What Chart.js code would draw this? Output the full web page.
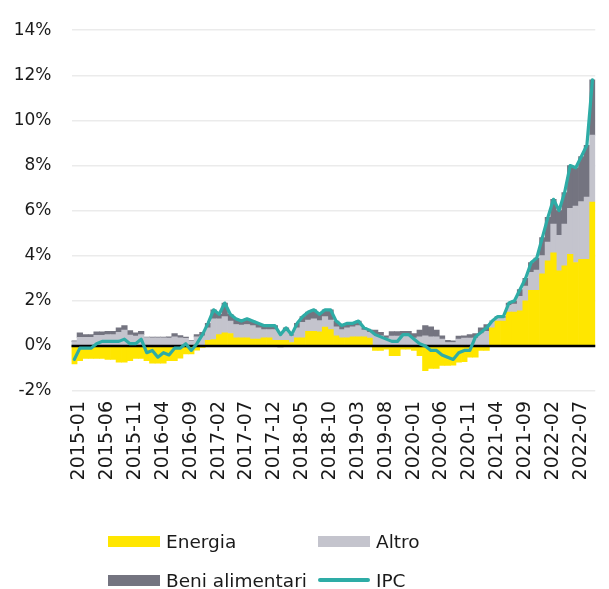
<!DOCTYPE html>
<html>
<head>
<meta charset="utf-8">
<script src="https://cdn.jsdelivr.net/npm/chart.js@4"></script>
<style>
  html, body { margin: 0; padding: 0; background: #ffffff; }
  #wrap { position: relative; width: 609px; height: 589px; }
  #legend { position: absolute; left: 108px; top: 526px; width: 480px;
    font-family: "DejaVu Sans", sans-serif; font-size: 18.5px; color: #1a1a1a; }
  .item { position: absolute; display: flex; align-items: center; white-space: nowrap; height: 30px; }
  .swatch { width: 52px; height: 11px; margin-right: 6px; }
  .lineSw { width: 52px; height: 4px; border-radius: 2px; margin-right: 6px; }
</style>
</head>
<body>
<div id="wrap">
  <canvas id="c" width="609" height="589"></canvas>
  <div id="legend"></div>
</div>
<script>
const months = [
  "2015-01","2015-02","2015-03","2015-04","2015-05","2015-06","2015-07","2015-08","2015-09","2015-10","2015-11","2015-12",
  "2016-01","2016-02","2016-03","2016-04","2016-05","2016-06","2016-07","2016-08","2016-09","2016-10","2016-11","2016-12",
  "2017-01","2017-02","2017-03","2017-04","2017-05","2017-06","2017-07","2017-08","2017-09","2017-10","2017-11","2017-12",
  "2018-01","2018-02","2018-03","2018-04","2018-05","2018-06","2018-07","2018-08","2018-09","2018-10","2018-11","2018-12",
  "2019-01","2019-02","2019-03","2019-04","2019-05","2019-06","2019-07","2019-08","2019-09","2019-10","2019-11","2019-12",
  "2020-01","2020-02","2020-03","2020-04","2020-05","2020-06","2020-07","2020-08","2020-09","2020-10","2020-11","2020-12",
  "2021-01","2021-02","2021-03","2021-04","2021-05","2021-06","2021-07","2021-08","2021-09","2021-10","2021-11","2021-12",
  "2022-01","2022-02","2022-03","2022-04","2022-05","2022-06","2022-07","2022-08","2022-09","2022-10"
];

const energia = [
  -0.80,-0.65,-0.55,-0.55,-0.55,-0.55,-0.60,-0.60,-0.72,-0.72,-0.65,-0.55,
  -0.55,-0.65,-0.77,-0.77,-0.77,-0.65,-0.65,-0.54,-0.36,-0.36,-0.19,-0.07,
  0.25,0.28,0.50,0.58,0.55,0.36,0.36,0.36,0.30,0.30,0.36,0.36,
  0.25,0.25,0.25,0.15,0.36,0.36,0.65,0.65,0.62,0.84,0.72,0.45,
  0.36,0.36,0.40,0.40,0.40,0.35,-0.20,-0.20,-0.15,-0.43,-0.43,-0.15,
  -0.15,-0.20,-0.43,-1.10,-1.00,-1.00,-0.87,-0.87,-0.85,-0.72,-0.70,-0.50,
  -0.50,-0.20,-0.20,0.80,1.10,1.10,1.50,1.50,1.55,2.00,2.46,2.46,
  3.20,3.77,4.13,3.33,3.55,4.06,3.70,3.84,3.84,6.38
];

const altro = [
  0.19,0.38,0.38,0.38,0.47,0.47,0.50,0.50,0.60,0.70,0.48,0.43,
  0.50,0.37,0.36,0.36,0.36,0.35,0.40,0.36,0.34,0.22,0.40,0.45,
  0.55,0.92,0.70,0.72,0.55,0.59,0.56,0.59,0.60,0.50,0.36,0.36,
  0.47,0.30,0.40,0.30,0.44,0.69,0.50,0.55,0.50,0.46,0.43,0.40,
  0.36,0.44,0.45,0.50,0.30,0.25,0.50,0.45,0.35,0.43,0.43,0.45,
  0.45,0.35,0.40,0.45,0.40,0.40,0.30,0.15,0.15,0.30,0.35,0.35,
  0.35,0.55,0.65,0.30,0.15,0.15,0.30,0.35,0.65,0.65,0.80,0.90,
  0.80,0.83,1.27,1.57,1.85,2.04,2.50,2.56,2.76,2.97
];

const beniAlimentari = [
  0.03,0.20,0.12,0.12,0.15,0.15,0.15,0.15,0.20,0.20,0.20,0.15,
  0.15,0.02,0.03,0.03,0.03,0.05,0.15,0.10,0.05,0.03,0.10,0.15,
  0.20,0.40,0.20,0.60,0.30,0.25,0.18,0.25,0.20,0.20,0.18,0.18,
  0.18,-0.05,0.15,0.05,0.20,0.25,0.35,0.40,0.30,0.30,0.45,0.25,
  0.18,0.20,0.15,0.20,0.10,0.10,0.20,0.15,0.10,0.20,0.20,0.20,
  0.20,0.20,0.30,0.45,0.45,0.30,0.15,0.10,0.08,0.13,0.10,0.15,
  0.20,0.25,0.30,0.00,0.05,0.05,0.10,0.15,0.30,0.35,0.44,0.54,
  0.80,1.10,1.10,1.10,1.40,1.90,1.70,2.00,2.30,2.45
];

const ipc = [
  -0.6,-0.1,-0.1,-0.1,0.1,0.2,0.2,0.2,0.2,0.3,0.1,0.1,
  0.3,-0.3,-0.2,-0.5,-0.3,-0.4,-0.1,-0.1,0.1,-0.2,0.1,0.5,
  1.0,1.6,1.4,1.9,1.4,1.2,1.1,1.2,1.1,1.0,0.9,0.9,
  0.9,0.5,0.8,0.5,1.0,1.3,1.5,1.6,1.4,1.6,1.6,1.1,
  0.9,1.0,1.0,1.1,0.8,0.7,0.5,0.4,0.3,0.2,0.2,0.5,
  0.5,0.3,0.1,0.0,-0.2,-0.2,-0.4,-0.5,-0.6,-0.3,-0.2,-0.2,
  0.4,0.6,0.8,1.1,1.3,1.3,1.9,2.0,2.5,3.0,3.7,3.9,
  4.8,5.7,6.5,6.0,6.8,8.0,7.9,8.4,8.9,11.8
];

const yTicks = [-2, 0, 2, 4, 6, 8, 10, 12, 14];
const tickEvery = 5;

const COLORS = { energia: "#FFE600", altro: "#C4C4CD", beni: "#747480", ipc: "#2EACA6" };
const FONT = "'DejaVu Sans', sans-serif";

const zeroLine = {
  id: "zeroLine",
  beforeDatasetDraw(chart, args) {
    if (args.index !== 3) return;
    const y = chart.scales.y.getPixelForValue(0);
    const { left, right } = chart.chartArea;
    const ctx = chart.ctx;
    ctx.save();
    ctx.strokeStyle = "#000000";
    ctx.lineWidth = 2.5;
    ctx.beginPath();
    ctx.moveTo(left, y);
    ctx.lineTo(right, y);
    ctx.stroke();
    ctx.restore();
  }
};

const chart = new Chart(document.getElementById("c"), {
  type: "bar",
  data: {
    labels: months,
    datasets: [
      { label: "Energia", data: energia, backgroundColor: COLORS.energia, stack: "s", order: 1 },
      { label: "Altro", data: altro, backgroundColor: COLORS.altro, stack: "s", order: 1 },
      { label: "Beni alimentari", data: beniAlimentari, backgroundColor: COLORS.beni, stack: "s", order: 1 },
      { type: "line", label: "IPC", data: ipc, borderColor: COLORS.ipc, backgroundColor: COLORS.ipc,
        borderWidth: 3.2, pointRadius: 0, tension: 0, order: 0, borderJoinStyle: "round", borderCapStyle: "round" }
    ]
  },
  options: {
    responsive: false,
    animation: false,
    devicePixelRatio: 1,
    datasets: { bar: { barPercentage: 1, categoryPercentage: 1, borderWidth: 0 } },
    layout: { padding: { top: 22, right: 12, left: 0, bottom: 0 } },
    plugins: { legend: { display: false }, tooltip: { enabled: false } },
    scales: {
      x: {
        stacked: true,
        grid: { display: false, drawTicks: false },
        border: { display: false },
        afterFit(s) { s.height = 198; },
        ticks: {
          autoSkip: false, maxRotation: 90, minRotation: 90, padding: 10, labelOffset: 5,
          color: "#1a1a1a", font: { family: FONT, size: 19 },
          callback(v, i) { return i % tickEvery === 0 ? months[i] : null; }
        }
      },
      y: {
        stacked: true,
        min: yTicks[0], max: yTicks[yTicks.length - 1],
        afterFit(s) { s.width = 71.5; },
        afterBuildTicks(s) { s.ticks = yTicks.map(v => ({ value: v })); },
        grid: { color: "#ebebeb", lineWidth: 1.6, drawTicks: false },
        border: { display: false },
        ticks: {
          padding: 20, color: "#1a1a1a", font: { family: FONT, size: 17 },
          callback(v) { return v + "%"; }
        }
      }
    }
  },
  plugins: [zeroLine]
});

// HTML legend in a 2-column grid, built from the chart's own legend items (dataset order)
const items = Chart.defaults.plugins.legend.labels.generateLabels(chart)
  .sort((a, b) => a.datasetIndex - b.datasetIndex);
const legendEl = document.getElementById("legend");
const cols = [0, 210];
const rows = [0, 39];
items.forEach((it, i) => {
  const div = document.createElement("div");
  div.className = "item";
  div.style.left = cols[i % 2] + "px";
  div.style.top = rows[Math.floor(i / 2)] + "px";
  const sw = document.createElement("span");
  const ds = chart.data.datasets[it.datasetIndex];
  if (ds.type === "line") {
    sw.className = "lineSw";
    sw.style.background = ds.borderColor;
  } else {
    sw.className = "swatch";
    sw.style.background = ds.backgroundColor;
  }
  const tx = document.createElement("span");
  tx.textContent = it.text;
  div.appendChild(sw);
  div.appendChild(tx);
  legendEl.appendChild(div);
});
</script>
</body>
</html>
